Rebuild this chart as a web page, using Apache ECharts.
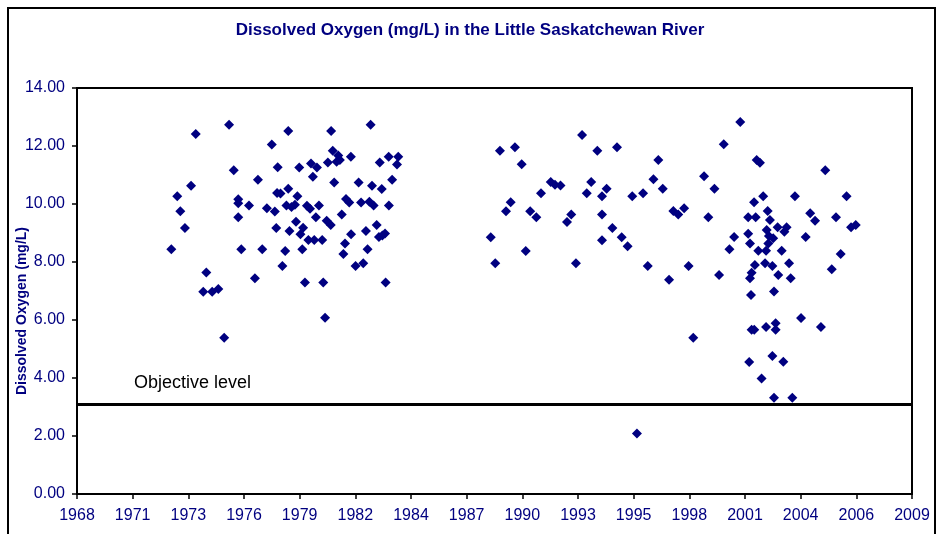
<!DOCTYPE html>
<html><head><meta charset="utf-8">
<script src="https://cdn.jsdelivr.net/npm/echarts@6/dist/echarts.min.js"></script>
<style>html,body{margin:0;padding:0;background:#fff}#c{width:940px;height:534px}</style>
</head><body><div id="c"></div>
<script>
const TITLE = 'Dissolved Oxygen (mg/L) in the Little Saskatchewan River';
const Y_NAME = 'Dissolved Oxygen (mg/L)';
const AXIS_START_YEAR = 1968.45;   // x axis starts mid-1968, ticks every 1000 days
const DAYS_PER_YEAR = 365.25;
const X_TICK_DAYS = 1000;
const X_TICK_COUNT = 15;
const Y_MIN = 0, Y_MAX = 14, Y_STEP = 2;
const OBJECTIVE_LEVEL = 3.1;
const OBJECTIVE_LABEL = 'Objective level';

// [decimal year, dissolved oxygen mg/L]
const samples1972to1984 = [
[1973.09,8.44],[1973.38,10.27],[1973.53,9.75],[1973.76,9.17],[1974.06,10.63],[1974.29,12.41],[1974.66,6.97],[1974.81,7.64],[1975.10,6.97],[1975.40,7.07],
[1975.69,5.39],[1975.93,12.73],[1976.16,11.16],[1976.38,10.16],[1976.38,10.03],[1976.38,9.54],[1976.53,8.44],[1976.91,9.95],[1977.20,7.44],[1977.35,10.84],
[1977.56,8.44],[1977.79,9.85],[1978.03,12.05],[1978.18,9.74],[1978.25,9.17],[1978.32,11.27],[1978.29,10.38],[1978.46,10.36],[1978.55,7.86],[1978.69,8.38],
[1978.75,9.95],[1979.00,9.90],[1979.17,9.97],[1978.84,12.52],[1978.84,10.53],[1978.90,9.07],[1979.29,10.27],[1979.22,9.39],[1979.38,11.26],[1979.44,8.96],
[1979.53,8.44],[1979.57,9.18],[1979.66,7.29],[1979.76,9.94],[1979.91,9.84],[1979.96,11.40],[1980.05,10.94],[1980.25,11.26],[1979.83,8.76],[1980.12,8.76],
[1980.20,9.54],[1980.35,9.95],[1980.51,8.76],[1980.56,7.29],[1980.65,6.08],[1980.73,9.42],[1980.93,9.28],[1980.79,11.43],[1980.95,12.52],[1981.03,11.84],
[1981.10,10.74],[1981.30,11.67],[1981.38,11.52],[1981.22,11.46],[1981.47,9.64],[1981.55,8.28],[1981.63,8.64],[1981.68,10.17],[1981.84,10.05],[1981.92,11.63],
[1981.93,8.96],[1982.15,7.86],[1982.30,10.74],[1982.42,10.05],[1982.53,7.96],[1982.66,9.07],[1982.74,8.44],[1982.83,10.08],[1982.89,12.73],[1983.04,9.95],
[1982.96,10.63],[1983.19,9.28],[1983.30,8.86],[1983.47,8.91],[1983.60,8.98],[1983.34,11.43],[1983.44,10.52],[1983.63,7.29],[1983.78,11.63],[1983.79,9.95],
[1983.95,10.84],[1984.25,11.63],[1984.19,11.36]
];
const samples1988to2006 = [
[1988.80,8.85],[1989.02,7.96],[1989.25,11.84],[1989.55,9.75],[1989.78,10.06],[1989.99,11.96],[1990.32,11.37],[1990.52,8.38],[1990.74,9.75],[1991.04,9.54],
[1991.27,10.37],[1991.75,10.76],[1991.96,10.66],[1992.23,10.64],[1992.55,9.38],[1992.76,9.64],[1992.99,7.96],[1993.29,12.38],[1993.52,10.37],[1993.74,10.76],
[1994.04,11.84],[1994.27,10.27],[1994.27,9.64],[1994.27,8.75],[1994.50,10.53],[1994.78,9.17],[1995.01,11.96],[1995.24,8.85],[1995.53,8.54],[1995.76,10.27],
[1995.99,2.09],[1996.29,10.37],[1996.52,7.86],[1996.80,10.85],[1997.04,11.52],[1997.26,10.53],[1997.57,7.39],[1997.78,9.76],[1998.02,9.64],[1998.31,9.85],
[1998.53,7.86],[1998.76,5.39],[1999.29,10.96],[1999.50,9.54],[1999.80,10.53],[2000.03,7.55],[2000.26,12.06],[2000.54,8.44],[2000.77,8.86],[2001.07,12.83],
[2001.46,9.54],[2001.46,8.97],[2001.55,8.64],[2001.79,7.90],[2001.63,7.63],[2001.55,7.44],[2001.60,6.86],[2001.63,5.66],[2001.76,5.66],[2001.51,4.55],
[2002.12,3.98],[2001.75,10.06],[2001.88,11.52],[2002.04,11.42],[2002.20,10.27],[2001.83,9.54],[2001.96,8.39],[2002.34,8.39],[2002.29,7.96],[2002.65,7.86],
[2002.42,9.76],[2002.53,9.45],[2002.37,9.10],[2002.48,8.90],[2002.69,8.82],[2002.45,8.64],[2002.91,9.20],[2003.35,9.20],[2003.24,9.04],[2003.11,8.39],
[2002.94,7.55],[2002.73,6.98],[2002.34,5.76],[2002.81,5.89],[2002.81,5.66],[2002.65,4.76],[2003.19,4.56],[2002.73,3.32],[2003.47,7.96],[2003.55,7.44],
[2003.63,3.32],[2003.76,10.27],[2004.06,6.07],[2004.29,8.86],[2004.51,9.68],[2004.75,9.42],[2005.04,5.76],[2005.25,11.16],[2005.57,7.75],[2005.78,9.54],
[2006.01,8.28],[2006.30,10.27],[2006.52,9.20],[2006.75,9.28]
];

const NAVY = '#000080';
const FONT = 'Liberation Sans, Arial, sans-serif';
const toDays = y => (y - AXIS_START_YEAR) * DAYS_PER_YEAR;
const points = samples1972to1984.concat(samples1988to2006).map(([yr, v]) => [toDays(yr), v]);

const chart = echarts.init(document.getElementById('c'), null, {renderer: 'canvas'});
chart.setOption({
  animation: false,
  backgroundColor: '#fff',
  title: {
    text: TITLE, left: 'center', top: 17,
    textStyle: {fontFamily: FONT, fontSize: 17, fontWeight: 'bold', color: NAVY}
  },
  grid: {left: 77, right: 28, top: 88, bottom: 40, show: true, borderColor: '#000', borderWidth: 2, backgroundColor: '#fff'},
  xAxis: {
    type: 'value', min: 0, max: X_TICK_DAYS * X_TICK_COUNT, interval: X_TICK_DAYS,
    axisLine: {show: true, onZero: false, lineStyle: {color: '#000', width: 2}},
    axisTick: {show: true, length: 5, lineStyle: {color: '#000', width: 1.5}},
    axisLabel: {
      color: NAVY, fontFamily: FONT, fontSize: 16, margin: 14,
      formatter: v => String(Math.floor(AXIS_START_YEAR + v / DAYS_PER_YEAR + 1e-9))
    },
    splitLine: {show: false}
  },
  yAxis: {
    type: 'value', min: Y_MIN, max: Y_MAX, interval: Y_STEP,
    axisLine: {show: true, lineStyle: {color: '#000', width: 2}},
    axisTick: {show: true, length: 5, lineStyle: {color: '#000', width: 1.5}},
    axisLabel: {color: NAVY, fontFamily: FONT, fontSize: 16, margin: 12, formatter: v => v.toFixed(2)},
    splitLine: {show: false}
  },
  series: [{
    type: 'scatter', symbol: 'diamond', symbolSize: 10,
    itemStyle: {color: NAVY, opacity: 1},
    data: points,
    markLine: {
      silent: true, symbol: 'none',
      data: [{yAxis: OBJECTIVE_LEVEL}],
      lineStyle: {color: '#000', width: 3, type: 'solid'},
      label: {show: false}
    }
  }],
  graphic: [
    {type: 'rect', shape: {x: 8, y: 8, width: 927, height: 540}, style: {fill: 'none', stroke: '#000', lineWidth: 2}, silent: true},
    {type: 'text', x: 22, y: 311, rotation: Math.PI / 2,
      style: {text: Y_NAME, fontFamily: FONT, fontSize: 14, fontWeight: 'bold', fill: NAVY, align: 'center', verticalAlign: 'middle'}},
    {type: 'text', x: 134, y: 383,
      style: {text: OBJECTIVE_LABEL, fontFamily: FONT, fontSize: 18, fill: '#000', align: 'left', verticalAlign: 'middle'}}
  ]
});
</script></body></html>
